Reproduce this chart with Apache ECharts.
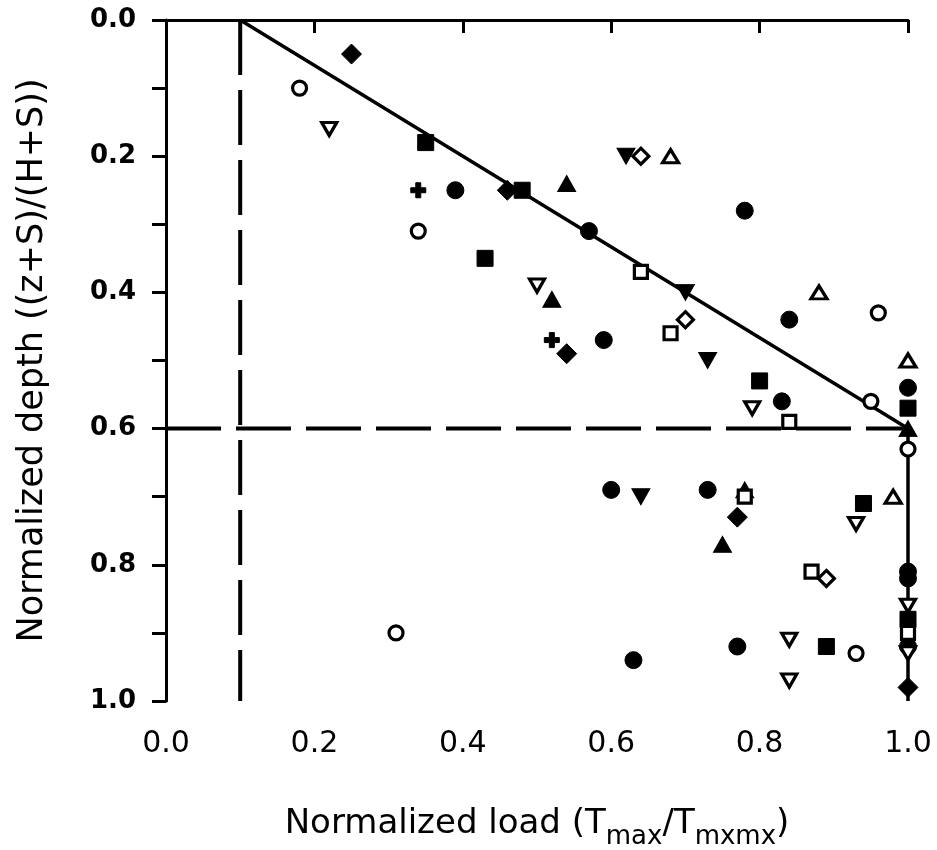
<!DOCTYPE html>
<html><head><meta charset="utf-8">
<script src="https://cdn.jsdelivr.net/npm/echarts@6/dist/echarts.min.js"></script>
<style>html,body{margin:0;padding:0;background:#fff}#c{width:937px;height:850px}</style>
</head><body><div id="c"></div>
<script>
// Tick labels
const xTickLabels = ['0.0', '0.2', '0.4', '0.6', '0.8', '1.0'];
const yTickLabels = ['0.0', '0.2', '0.4', '0.6', '0.8', '1.0'];

// Reference lines [load, depth]
const envelopeLine = [[0.1, 0.0], [1.0, 0.6], [1.0, 1.0]];
const dashedVertical = [[0.1, 0.0], [0.1, 1.0]];
const dashedHorizontal = [[0.0, 0.6], [1.0, 0.6]];

// Data points [normalized load, normalized depth]
const filledCircle = [[0.39, 0.25], [0.57, 0.31], [0.78, 0.28], [0.84, 0.44], [0.59, 0.47], [1.0, 0.54], [0.83, 0.56], [0.60, 0.69], [0.73, 0.69], [1.0, 0.81], [1.0, 0.82], [1.0, 0.92], [0.63, 0.94], [0.77, 0.92]];
const filledSquare = [[0.35, 0.18], [0.48, 0.25], [0.43, 0.35], [0.80, 0.53], [1.0, 0.57], [0.94, 0.71], [1.0, 0.88], [0.89, 0.92]];
const filledDiamond = [[0.25, 0.05], [0.46, 0.25], [0.54, 0.49], [0.77, 0.73], [1.0, 0.98]];
const filledTriUp = [[0.54, 0.24], [0.52, 0.41], [1.0, 0.60], [0.78, 0.69], [0.75, 0.77]];
const filledTriDown = [[0.62, 0.20], [0.70, 0.40], [0.73, 0.50], [0.64, 0.70]];
const plusMark = [[0.34, 0.25], [0.52, 0.47]];
const openCircle = [[0.18, 0.10], [0.34, 0.31], [0.96, 0.43], [0.95, 0.56], [1.0, 0.63], [0.31, 0.90], [0.93, 0.93]];
const openSquare = [[0.64, 0.37], [0.68, 0.46], [0.84, 0.59], [0.78, 0.70], [0.87, 0.81], [1.0, 0.90]];
const openDiamond = [[0.64, 0.20], [0.70, 0.44], [0.89, 0.82]];
const openTriUp = [[0.68, 0.20], [0.88, 0.40], [1.0, 0.50], [0.98, 0.70]];
const openTriDown = [[0.22, 0.16], [0.50, 0.39], [0.79, 0.57], [0.93, 0.74], [1.0, 0.86], [1.0, 0.93], [0.84, 0.91], [0.84, 0.97]];

const FONT = 'DejaVu Sans';

function filled(data, symbol, size, rotate) {
  return { type: 'scatter', data: data, symbol: symbol, symbolSize: size, symbolRotate: rotate || 0,
    clip: false, z: 5, itemStyle: { color: '#000', borderColor: '#000', borderWidth: 1, opacity: 1 } };
}
function open(data, symbol, size, rotate) {
  return { type: 'scatter', data: data, symbol: symbol, symbolSize: size, symbolRotate: rotate || 0,
    clip: false, z: 6, itemStyle: { color: '#fff', borderColor: '#000', borderWidth: 3.2, opacity: 1 } };
}

const chart = echarts.init(document.getElementById('c'), null, { renderer: 'canvas' });
chart.setOption({
  animation: false,
  backgroundColor: '#fff',
  grid: { left: 166, right: 29, top: 20, bottom: 149, containLabel: false, outerBoundsMode: 'none' },
  xAxis: {
    type: 'value', min: 0, max: 1, interval: 0.2,
    axisLine: { show: true, lineStyle: { color: '#000', width: 3 } },
    axisTick: { show: true, length: 13, lineStyle: { color: '#000', width: 3 } },
    splitLine: { show: false },
    axisLabel: { color: '#000', fontFamily: FONT, fontSize: 30, margin: 28,
      formatter: v => xTickLabels[Math.round(v / 0.2)] },
    name: 'Normalized load (T{s|max}/T{s|mxmx})',
    nameLocation: 'middle', nameGap: 97,
    nameTextStyle: { color: '#000', fontFamily: FONT, fontSize: 34,
      rich: { s: { fontFamily: FONT, fontSize: 26, color: '#000', padding: [26, 0, 0, 0] } } }
  },
  yAxis: {
    type: 'value', inverse: true, min: 0, max: 1, interval: 0.2,
    axisLine: { show: true, lineStyle: { color: '#000', width: 3 } },
    axisTick: { show: true, length: 14, lineStyle: { color: '#000', width: 3 } },
    minorTick: { show: true, splitNumber: 2, length: 14, lineStyle: { color: '#000', width: 3 } },
    splitLine: { show: false },
    axisLabel: { color: '#000', fontFamily: FONT, fontWeight: 'bold', fontSize: 26, margin: 30,
      formatter: v => yTickLabels[Math.round(v / 0.2)] },
    name: 'Normalized depth ((z+S)/(H+S))',
    nameLocation: 'middle', nameGap: 116, nameRotate: 90,
    nameTextStyle: { color: '#000', fontFamily: FONT, fontSize: 35 }
  },
  series: [
    { type: 'line', data: dashedVertical, symbol: 'none', z: 2, lineStyle: { color: '#000', width: 4, type: [55, 15] } },
    { type: 'line', data: dashedHorizontal, symbol: 'none', z: 2, lineStyle: { color: '#000', width: 4, type: [55, 15] } },
    { type: 'line', data: envelopeLine, symbol: 'none', z: 3, lineStyle: { color: '#000', width: 3.5 } },
    filled(filledCircle, 'circle', 17),
    filled(filledSquare, 'rect', 16),
    filled(filledDiamond, 'diamond', 20),
    filled(filledTriUp, 'triangle', [18, 16]),
    filled(filledTriDown, 'triangle', [18, 16], 180),
    filled(plusMark, 'path://M3,0H6V3H9V6H6V9H3V6H0V3H3Z', 15),
    open(openCircle, 'circle', 14),
    open(openSquare, 'rect', 13),
    open(openDiamond, 'diamond', 16),
    open(openTriUp, 'triangle', [16, 13]),
    open(openTriDown, 'triangle', [15, 13], 180)
  ]
});
</script>
</body></html>
